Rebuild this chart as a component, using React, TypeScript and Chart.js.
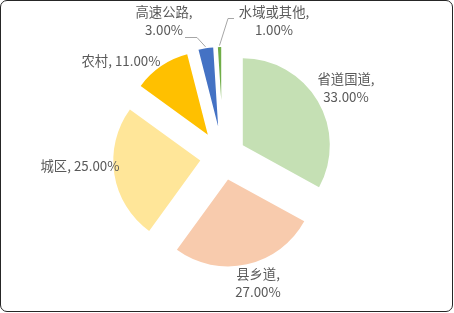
import React, { useEffect, useRef } from "react";
import { Chart, PieController, ArcElement } from "chart.js";

Chart.register(PieController, ArcElement);

// ---- data ----
const categories = ["省道国道", "县乡道", "城区", "农村", "高速公路", "水域或其他"];
const shares = [33, 27, 25, 11, 3, 1];

// ---- styles / layout ----
const sliceColors = ["#C5E0B4", "#F8CBAD", "#FFE699", "#FFC000", "#4472C4", "#70AD47"];
const PIE_EXTENT = 110; // outer extent of every slice measured from the pie centre
const explodeDist = [23, 23, 23, 27, 31, 57];
// label centre [x, y], two lines?
const labelLayout: [number, number, boolean][] = [
  [346, 87.5, true],
  [258, 282.5, true],
  [80, 166, false],
  [121, 61, false],
  [164, 21, true],
  [274, 21, true],
];
const leaderBends: Record<number, [number, number][]> = {
  4: [[197, 37.5], [185, 37.5]],
  5: [[228, 18.5], [234, 18.5]],
};
const FONT = "13.33px 'Noto Sans CJK SC', 'Noto Sans', sans-serif";
const TEXT_COLOR = "#595959";

const explodePlugin = {
  id: "explodeSlices",
  beforeDatasetDraw(chart: any, args: any) {
    const area = chart.chartArea;
    const cx = (area.left + area.right) / 2;
    const cy = (area.top + area.bottom) / 2;
    args.meta.data.forEach((arc: any, i: number) => {
      const mid = (arc.startAngle + arc.endAngle) / 2;
      const d = explodeDist[i];
      arc.x = cx + Math.cos(mid) * d;
      arc.y = cy + Math.sin(mid) * d;
      arc.outerRadius = PIE_EXTENT - d;
    });
  },
};

const labelPlugin = {
  id: "sliceLabels",
  afterDatasetsDraw(chart: any) {
    const ctx = chart.ctx;
    const meta = chart.getDatasetMeta(0);
    ctx.save();
    // leader lines
    ctx.strokeStyle = "#A6A6A6";
    ctx.lineWidth = 1;
    Object.keys(leaderBends).forEach((k) => {
      const i = Number(k);
      const arc = meta.data[i];
      const mid = (arc.startAngle + arc.endAngle) / 2;
      const r = arc.outerRadius + 1.5;
      ctx.beginPath();
      ctx.moveTo(arc.x + Math.cos(mid) * r, arc.y + Math.sin(mid) * r);
      leaderBends[i].forEach(([x, y]) => ctx.lineTo(x, y));
      ctx.stroke();
    });
    // texts
    ctx.font = FONT;
    ctx.fillStyle = TEXT_COLOR;
    ctx.textAlign = "center";
    ctx.textBaseline = "middle";
    categories.forEach((name, i) => {
      const [x, y, twoLines] = labelLayout[i];
      const pct = shares[i].toFixed(2) + "%";
      if (twoLines) {
        ctx.fillText(name + ",", x, y - 9);
        ctx.fillText(pct, x, y + 9);
      } else {
        ctx.fillText(name + ", " + pct, x, y);
      }
    });
    ctx.restore();
  },
};

export default function App() {
  const ref = useRef<HTMLCanvasElement>(null);
  useEffect(() => {
    if (!ref.current) return;
    const chart = new Chart(ref.current, {
      type: "pie",
      data: {
        labels: categories,
        datasets: [
          {
            data: shares,
            backgroundColor: sliceColors,
            borderWidth: 0,
          },
        ],
      },
      options: {
        responsive: false,
        animation: false,
        events: [],
        layout: { padding: { left: 0, right: 8, top: 1, bottom: 0 } },
        plugins: { legend: { display: false }, tooltip: { enabled: false } },
      },
      plugins: [explodePlugin, labelPlugin],
    });
    return () => chart.destroy();
  }, []);
  return (
    <div style={{ position: "fixed", left: 0, top: 0, width: 454, height: 313, background: "#fff" }}>
      <canvas ref={ref} width={454} height={313} style={{ position: "absolute", left: 0, top: 0 }} />
      <div
        style={{
          position: "absolute",
          left: 0,
          top: 0,
          width: 453,
          height: 312,
          boxSizing: "border-box",
          border: "1px solid #262626",
          borderRadius: 7,
          pointerEvents: "none",
        }}
      />
    </div>
  );
}
